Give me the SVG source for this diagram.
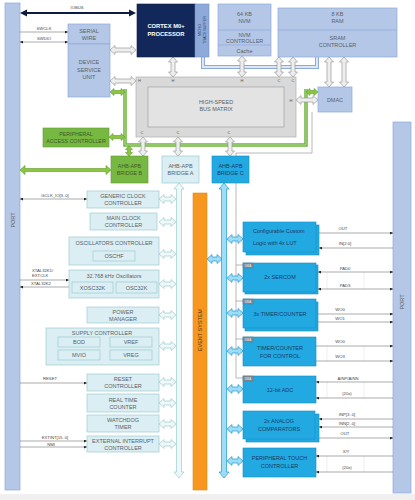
<svg xmlns="http://www.w3.org/2000/svg" width="415" height="500" viewBox="0 0 415 500">
<style>
text{font-family:"Liberation Sans",Arial,sans-serif;text-anchor:middle}
.t{font-size:5.5px;fill:#5a5f66}
.tb{font-size:5.5px;fill:#1b3a66}
.tg{font-size:5.3px;fill:#3d5a23}
.s{font-size:4.2px;fill:#444}
.sl{font-size:4.2px;fill:#444;text-anchor:start}
.p{font-size:4px;fill:#555}
.lb{fill:#b4c7e7;stroke:#8eaadb;stroke-width:0.7}
.tl{fill:#daeef3;stroke:#9fcad2;stroke-width:0.7}
.bl{fill:#22a9e1;stroke:#1a8cc4;stroke-width:0.6}
.gr{fill:#77b843;stroke:#5e9a32;stroke-width:0.6}
.ga{fill:#eeeeee;stroke:#9a9a9a;stroke-width:0.7}
.ta{fill:#eef8f9;stroke:#9ccbd0;stroke-width:0.7}
.ba{fill:#9fdcf5;stroke:#1a9ad6;stroke-width:0.7}
.gn{fill:#8cc63f;stroke:#5a9a2a;stroke-width:0.6}
.sig{fill:none;stroke:#555;stroke-width:0.5}
.fa{fill:none;stroke:#dcdcdc;stroke-width:0.5}
.tab{fill:#7f8c96;stroke:#5f6a72;stroke-width:0.4}
</style>
<defs>
<marker id="ah" viewBox="0 0 6 6" refX="6" refY="3" markerWidth="3" markerHeight="3" orient="auto-start-reverse" markerUnits="userSpaceOnUse"><path d="M0,0 L6,3 L0,6z" fill="#222"/></marker>
</defs>
<rect x="0" y="494" width="415" height="6" fill="#f0f0f0"/>

<g id="port-left"><rect class="lb" x="5" y="3" width="15" height="487"/><text class="t" transform="translate(14.5,220) rotate(-90)">PORT</text></g>
<g id="port-right"><rect class="lb" x="393" y="122" width="18" height="371"/><text class="t" transform="translate(404,302) rotate(-90)">PORT</text></g>

<g id="connectors">
<!-- trace buffer channel -->
<path d="M203,57 V67 H317 V57" fill="none" stroke="#8eaadb" stroke-width="4"/>
<path d="M203,57 V67 H317 V57" fill="none" stroke="#dce6f4" stroke-width="2"/>
<!-- green bus -->
<path d="M125,89 V145 H306 V89" fill="none" stroke="#6cb33f" stroke-width="3.5"/>
<path d="M125,89 V145 H306 V89" fill="none" stroke="#b5dc8f" stroke-width="1"/>
<!-- DMA trigger line -->
<path d="M312,112 V153 H236 V378 M236,265 H243 M236,301 H243 M236,339 H243 M236,378 H243" fill="none" stroke="#a6a6a6" stroke-width="0.8"/>
<!-- IOBUS -->
<line x1="26" y1="13" x2="130" y2="13" stroke="#0d1b3e" stroke-width="1.8"/>
<polygon points="20,13 27,9.5 27,16.5" fill="#0d1b3e"/><polygon points="136,13 129,9.5 129,16.5" fill="#0d1b3e"/>
<!-- gray AHB arrows -->
<polygon class="ga" points="110,50 115,45.5 115,48 131,48 131,45.5 136,50 131,54.5 131,52 115,52 115,54.5"/>
<polygon class="ga" points="110,81 115,76.5 115,79 131,79 131,76.5 136,81 131,85.5 131,83 115,83 115,85.5"/>
<polygon class="ga" points="173,57 177.5,62 175,62 175,72 177.5,72 173,77 168.5,72 171,72 171,62 168.5,62"/>
<polygon class="ga" points="242,56 246.5,61 244,61 244,72 246.5,72 242,77 237.5,72 240,72 240,61 237.5,61"/>
<polygon class="ga" points="279,57 283.5,62 281,62 281,72 283.5,72 279,77 274.5,72 277,72 277,62 274.5,62"/>
<polygon class="ga" points="293,57 297.5,62 295,62 295,72 297.5,72 293,77 288.5,72 291,72 291,62 288.5,62"/>
<polygon class="ga" points="329,57 333.5,62 331,62 331,82 333.5,82 329,87 324.5,82 327,82 327,62 324.5,62"/>
<polygon class="ga" points="344,57 348.5,62 346,62 346,82 348.5,82 344,87 339.5,82 342,82 342,62 339.5,62"/>
<polygon class="ga" points="296,100 301,95.5 301,98 313,98 313,95.5 318,100 313,104.5 313,102 301,102 301,104.5"/>
<polygon class="ga" points="143,137 147.5,142 145,142 145,151 147.5,151 143,156 138.5,151 141,151 141,142 138.5,142"/>
<polygon class="ga" points="178,137 182.5,142 180,142 180,151 182.5,151 178,156 173.5,151 176,151 176,142 173.5,142"/>
<polygon class="ga" points="230,137 234.5,142 232,142 232,151 234.5,151 230,156 225.5,151 228,151 228,142 225.5,142"/>
<!-- green arrows -->
<polygon class="gn" points="110,92 114,88.5 114,90.5 121,90.5 121,88.5 125,92 121,95.5 121,93.5 114,93.5 114,95.5"/>
<polygon class="gn" points="109,137 113,133.5 113,135.5 121,135.5 121,133.5 125,137 121,140.5 121,138.5 113,138.5 113,140.5"/>
<polygon class="gn" points="129,146 132.5,149.5 130.5,149.5 130.5,152.5 132.5,152.5 129,156 125.5,152.5 127.5,152.5 127.5,149.5 125.5,149.5"/>
<polygon class="gn" points="306,92 310,88.5 310,90.5 314,90.5 314,88.5 318,92 314,95.5 314,93.5 310,93.5 310,95.5"/>
<polygon class="gn" points="20,170 25,165.5 25,168.5 106,168.5 106,165.5 111,170 106,174.5 106,171.5 25,171.5 25,174.5"/>
<!-- APB A bus -->
<polygon class="ta" points="179,183 184,189 181.5,189 181.5,472 184,472 179,478 174,472 176.5,472 176.5,189 174,189"/>
<polygon class="ta" points="159,199 164,194.5 164,197 171,197 171,194.5 176,199 171,203.5 171,201 164,201 164,203.5"/>
<polygon class="ta" points="159,222 164,217.5 164,220 171,220 171,217.5 176,222 171,226.5 171,224 164,224 164,226.5"/>
<polygon class="ta" points="159,254 164,249.5 164,252 171,252 171,249.5 176,254 171,258.5 171,256 164,256 164,258.5"/>
<polygon class="ta" points="159,284 164,279.5 164,282 171,282 171,279.5 176,284 171,288.5 171,286 164,286 164,288.5"/>
<polygon class="ta" points="159,315 164,310.5 164,313 171,313 171,310.5 176,315 171,319.5 171,317 164,317 164,319.5"/>
<polygon class="ta" points="159,346 164,341.5 164,344 171,344 171,341.5 176,346 171,350.5 171,348 164,348 164,350.5"/>
<polygon class="ta" points="159,382 164,377.5 164,380 171,380 171,377.5 176,382 171,386.5 171,384 164,384 164,386.5"/>
<polygon class="ta" points="159,403 164,398.5 164,401 171,401 171,398.5 176,403 171,407.5 171,405 164,405 164,407.5"/>
<polygon class="ta" points="159,424 164,419.5 164,422 171,422 171,419.5 176,424 171,428.5 171,426 164,426 164,428.5"/>
<polygon class="ta" points="159,444 164,439.5 164,442 171,442 171,439.5 176,444 171,448.5 171,446 164,446 164,448.5"/>
<!-- APB C bus -->
<polygon class="ba" points="224,183 229,189 226.5,189 226.5,472 229,472 224,478 219,472 221.5,472 221.5,189 219,189"/>
<polygon class="ba" points="207,259 212,254.5 212,257 217,257 217,254.5 222,259 217,263.5 217,261 212,261 212,263.5"/>
<polygon class="ba" points="227,239 232,234.5 232,237 238,237 238,234.5 243,239 238,243.5 238,241 232,241 232,243.5"/>
<polygon class="ba" points="227,278 232,273.5 232,276 238,276 238,273.5 243,278 238,282.5 238,280 232,280 232,282.5"/>
<polygon class="ba" points="227,313 232,308.5 232,311 238,311 238,308.5 243,313 238,317.5 238,315 232,315 232,317.5"/>
<polygon class="ba" points="227,351 232,346.5 232,349 238,349 238,346.5 243,351 238,355.5 238,353 232,353 232,355.5"/>
<polygon class="ba" points="227,389 232,384.5 232,387 238,387 238,384.5 243,389 238,393.5 238,391 232,391 232,393.5"/>
<polygon class="ba" points="227,429 232,424.5 232,427 238,427 238,424.5 243,429 238,433.5 238,431 232,431 232,433.5"/>
<polygon class="ba" points="227,461 232,456.5 232,459 238,459 238,456.5 243,461 238,465.5 238,463 232,463 232,465.5"/>
<!-- left signals -->
<path class="sig" d="M20,32 H68" marker-end="url(#ah)"/>
<path class="sig" d="M20,42 H68" marker-start="url(#ah)" marker-end="url(#ah)"/>
<path class="sig" d="M20,199 H87" marker-start="url(#ah)" marker-end="url(#ah)"/>
<path class="sig" d="M20,280 H69" marker-end="url(#ah)"/>
<path class="sig" d="M69,287 H20" marker-end="url(#ah)"/>
<path class="sig" d="M20,383 H87" marker-end="url(#ah)"/>
<path class="sig" d="M20,441 H87" marker-end="url(#ah)"/>
<path class="sig" d="M20,447 H87" marker-end="url(#ah)"/>
<!-- right signals -->
<path class="fa" d="M327,272 V289 M364,272 V289 M327,346 V361 M364,346 V361 M327,382 V398 M364,382 V398 M327,456 V472 M364,456 V472"/>
<path class="sig" d="M316,233 H393" marker-end="url(#ah)"/>
<path class="sig" d="M393,248 H319" marker-end="url(#ah)"/>
<path class="sig" d="M318,272 H393" marker-start="url(#ah)" marker-end="url(#ah)"/>
<path class="sig" d="M318,289 H393" marker-start="url(#ah)" marker-end="url(#ah)"/>
<path class="sig" d="M318,314 H393" marker-end="url(#ah)"/>
<path class="sig" d="M318,322 H393" marker-end="url(#ah)"/>
<path class="sig" d="M316,346 H393" marker-end="url(#ah)"/>
<path class="sig" d="M316,361 H393" marker-end="url(#ah)"/>
<path class="sig" d="M393,382 H316" marker-end="url(#ah)"/>
<path class="sig" d="M393,398 H316" marker-end="url(#ah)"/>
<path class="sig" d="M393,419 H319" marker-end="url(#ah)"/>
<path class="sig" d="M393,427 H319" marker-end="url(#ah)"/>
<path class="sig" d="M319,438 H393" marker-end="url(#ah)"/>
<path class="sig" d="M393,456 H316" marker-end="url(#ah)"/>
<path class="sig" d="M393,472 H316" marker-end="url(#ah)"/>
<!-- labels -->
<text class="s" x="77" y="9">IOBUS</text>
<text class="s" x="44" y="29.5">SWCLK</text>
<text class="s" x="44" y="39.5">SWDIO</text>
<text class="s" x="55" y="196.5">GCLK_IO[3..0]</text>
<text class="sl" x="32" y="272">XTAL32K1/</text>
<text class="sl" x="32" y="276.5">EXTCLK</text>
<text class="sl" x="31" y="284.5">XTAL32K2</text>
<text class="s" x="50" y="380">RESET</text>
<text class="s" x="55" y="439">EXTINT[15..0]</text>
<text class="s" x="51" y="445.5">NMI</text>
<text class="s" x="343" y="230">OUT</text>
<text class="s" x="345" y="245">IN[2:0]</text>
<text class="s" x="345" y="270">PAD0</text>
<text class="s" x="345" y="287">PAD3</text>
<text class="s" x="340" y="311">WO0</text>
<text class="s" x="340" y="319.5">WO1</text>
<text class="s" x="340" y="343">WO0</text>
<text class="s" x="340" y="358">WO3</text>
<text class="s" x="348" y="379.5">AINP/AINN</text>
<text class="s" x="347" y="395">(20x)</text>
<text class="s" x="347" y="416">INP[3..0]</text>
<text class="s" x="347" y="424.5">INN[2..0]</text>
<text class="s" x="345" y="435">OUT</text>
<text class="s" x="346" y="453">X/Y</text>
<text class="s" x="347" y="469">(20x)</text>
</g>

<g id="cortex"><rect x="137" y="4" width="58" height="53" fill="#13285a" stroke="#0c1c42" stroke-width="0.6"/><text x="166" y="28" style="font-size:5.8px;font-weight:bold;fill:#fff">CORTEX M0+</text><text x="166" y="36" style="font-size:5.8px;font-weight:bold;fill:#fff">PROCESSOR</text></g>
<g id="mtb"><rect x="195" y="4" width="14" height="53" fill="#8eaadb" stroke="#6f8fc4" stroke-width="0.6"/><text transform="translate(201,30) rotate(-90)" style="font-size:3.6px;fill:#2b3d63">MICRO</text><text transform="translate(205.5,30) rotate(-90)" style="font-size:3.6px;fill:#2b3d63">TRACE BUFFER</text></g>
<g id="nvm"><rect class="lb" x="218" y="4" width="53" height="52"/><line x1="218" y1="30" x2="271" y2="30" stroke="#8eaadb" stroke-width="0.7"/><line x1="218" y1="45" x2="271" y2="45" stroke="#8eaadb" stroke-width="0.7"/><text class="t" x="244.5" y="16">64 KB</text><text class="t" x="244.5" y="23">NVM</text><text class="t" x="244.5" y="36.5">NVM</text><text class="t" x="244.5" y="43">CONTROLLER</text><text class="t" x="244.5" y="53">Cache</text></g>
<g id="ram"><rect class="lb" x="278" y="8" width="119" height="49"/><line x1="278" y1="30" x2="397" y2="30" stroke="#8eaadb" stroke-width="0.7"/><text class="t" x="337.5" y="16">8 KB</text><text class="t" x="337.5" y="23">RAM</text><text class="t" x="337.5" y="40">SRAM</text><text class="t" x="337.5" y="47">CONTROLLER</text></g>
<g id="dmac"><rect class="lb" x="318" y="87" width="34" height="25"/><text class="t" x="335" y="102">DMAC</text></g>
<g id="serial-wire"><rect class="lb" x="68" y="24" width="42" height="20"/><text class="t" x="89" y="32.5">SERIAL</text><text class="t" x="89" y="39.5">WIRE</text></g>
<g id="dsu"><rect class="lb" x="68" y="44" width="42" height="53"/><text class="t" x="89" y="64">DEVICE</text><text class="t" x="89" y="71.5">SERVICE</text><text class="t" x="89" y="79">UNIT</text></g>
<g id="bus-matrix"><rect x="136" y="77" width="160" height="60" fill="#d9d9d9" stroke="#b0b0b0" stroke-width="0.7"/><rect x="148" y="87" width="136" height="40" fill="#e3e3e3" stroke="#a0a0a0" stroke-width="0.7"/><text class="t" x="216" y="104">HIGH-SPEED</text><text class="t" x="216" y="111">BUS MATRIX</text>
<text class="p" x="139.5" y="82">H</text><text class="p" x="173" y="82">H</text><text class="p" x="242" y="82">H</text><text class="p" x="279" y="82">C</text><text class="p" x="293" y="82">C</text><text class="p" x="291" y="101.5">H</text><text class="p" x="142" y="133.5">C</text><text class="p" x="178" y="133.5">C</text><text class="p" x="229" y="133.5">C</text></g>
<g id="pac"><rect class="gr" x="43" y="128" width="66" height="19"/><text class="tg" x="76" y="136">PERIPHERAL</text><text class="tg" x="76" y="143">ACCESS CONTROLLER</text></g>
<g id="bridge-b"><rect class="gr" x="111" y="156" width="37" height="27"/><text class="tg" x="129.5" y="168">AHB-APB</text><text class="tg" x="129.5" y="175">BRIDGE B</text></g>
<g id="bridge-a"><rect class="tl" x="162" y="156" width="37" height="27"/><text class="t" x="180.5" y="168">AHB-APB</text><text class="t" x="180.5" y="175">BRIDGE A</text></g>
<g id="bridge-c"><rect class="bl" x="212" y="156" width="37" height="27"/><text class="tb" x="230.5" y="168">AHB-APB</text><text class="tb" x="230.5" y="175">BRIDGE C</text></g>
<g id="event-system"><rect x="193" y="193" width="14" height="297" fill="#f7971f" stroke="#e08a1a" stroke-width="0.6"/><text transform="translate(202,330) rotate(-90)" style="font-size:5.5px;fill:#5a3a10">EVENT SYSTEM</text></g>

<g id="gclk"><rect class="tl" x="87" y="191" width="72" height="17"/><text class="t" x="123" y="198">GENERIC CLOCK</text><text class="t" x="123" y="205">CONTROLLER</text></g>
<g id="mclk"><rect class="tl" x="90" y="213" width="67" height="17"/><text class="t" x="123.5" y="220">MAIN CLOCK</text><text class="t" x="123.5" y="227">CONTROLLER</text></g>
<g id="oscctrl"><rect class="tl" x="69" y="237" width="90" height="28"/><text class="t" x="114" y="245">OSCILLATORS CONTROLLER</text><rect class="tl" x="93" y="251" width="42" height="10"/><text class="t" x="114" y="258">OSCHF</text></g>
<g id="osc32k"><rect class="tl" x="69" y="270" width="90" height="28"/><text class="t" x="114" y="278">32.768 kHz Oscillators</text><rect class="tl" x="72" y="282" width="41" height="11"/><text class="t" x="92.5" y="289.5">XOSC32K</text><rect class="tl" x="116" y="282" width="41" height="11"/><text class="t" x="136.5" y="289.5">OSC32K</text></g>
<g id="pm"><rect class="tl" x="87" y="307" width="72" height="16"/><text class="t" x="123" y="313.5">POWER</text><text class="t" x="123" y="320.5">MANAGER</text></g>
<g id="supc"><rect class="tl" x="46" y="328" width="113" height="37"/><text class="t" x="102" y="334.5">SUPPLY CONTROLLER</text><rect class="tl" x="58" y="337" width="42" height="10"/><text class="t" x="79" y="344">BOD</text><rect class="tl" x="110" y="337" width="42" height="10"/><text class="t" x="131" y="344">VREF</text><rect class="tl" x="58" y="350" width="42" height="10"/><text class="t" x="79" y="357">MVIO</text><rect class="tl" x="110" y="350" width="42" height="10"/><text class="t" x="131" y="357">VREG</text></g>
<g id="rstc"><rect class="tl" x="87" y="374" width="72" height="17"/><text class="t" x="123" y="381">RESET</text><text class="t" x="123" y="388">CONTROLLER</text></g>
<g id="rtc"><rect class="tl" x="87" y="394" width="72" height="18"/><text class="t" x="123" y="401.5">REAL TIME</text><text class="t" x="123" y="408.5">COUNTER</text></g>
<g id="wdt"><rect class="tl" x="87" y="415" width="72" height="17"/><text class="t" x="123" y="422">WATCHDOG</text><text class="t" x="123" y="429">TIMER</text></g>
<g id="eic"><rect class="tl" x="87" y="436" width="72" height="16"/><text class="t" x="123" y="442.5">EXTERNAL INTERRUPT</text><text class="t" x="123" y="449.5">CONTROLLER</text></g>

<g id="ccl"><rect class="bl" x="246" y="225" width="73" height="30"/><rect class="bl" x="243" y="222" width="73" height="30"/><text class="tb" x="253" y="233" style="text-anchor:start">Configurable Custom</text><text class="tb" x="253" y="244.5" style="text-anchor:start">Logic with 4x LUT</text></g>
<g id="sercom"><rect class="bl" x="245" y="265" width="73" height="29"/><rect class="bl" x="243" y="263" width="73" height="29"/><rect class="tab" x="243" y="263" width="10" height="5"/><text x="248" y="266.8" style="font-size:3px;fill:#e8e8e8">DMA</text><text class="tb" x="280" y="279">2x SERCOM</text></g>
<g id="tc"><rect class="bl" x="245" y="302" width="73" height="29"/><rect class="bl" x="243" y="299" width="73" height="29"/><rect class="tab" x="243" y="299" width="10" height="5"/><text x="248" y="302.8" style="font-size:3px;fill:#e8e8e8">DMA</text><text class="tb" x="280" y="315.5">3x TIMER/COUNTER</text></g>
<g id="tcc"><rect class="bl" x="243" y="337" width="73" height="29"/><rect class="tab" x="243" y="337" width="10" height="5"/><text x="248" y="340.8" style="font-size:3px;fill:#e8e8e8">DMA</text><text class="tb" x="280" y="350">TIMER/COUNTER</text><text class="tb" x="280" y="357.5">FOR CONTROL</text></g>
<g id="adc"><rect class="bl" x="243" y="376" width="73" height="27"/><rect class="tab" x="243" y="376" width="10" height="5"/><text x="248" y="379.8" style="font-size:3px;fill:#e8e8e8">DMA</text><text class="tb" x="280" y="391.5">12-bit ADC</text></g>
<g id="ac"><rect class="bl" x="246" y="414" width="73" height="28"/><rect class="bl" x="243" y="411" width="72" height="28"/><text class="tb" x="279" y="423">2x ANALOG</text><text class="tb" x="279" y="430.5">COMPARATORS</text></g>
<g id="ptc"><rect class="bl" x="243" y="448" width="73" height="29"/><text class="tb" x="279.5" y="460">PERIPHERAL TOUCH</text><text class="tb" x="279.5" y="467.5">CONTROLLER</text></g>
</svg>
